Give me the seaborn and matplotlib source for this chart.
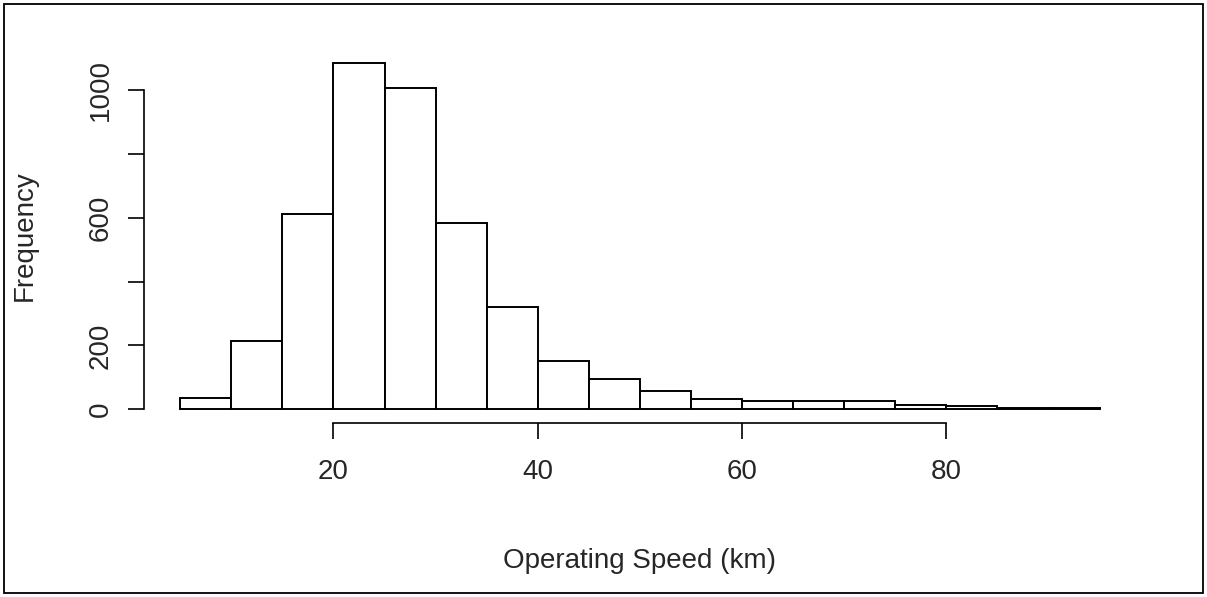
import matplotlib
matplotlib.use("Agg")
import matplotlib.pyplot as plt
import seaborn as sns
from matplotlib.patches import Rectangle

# Histogram bins (km) and counts
bin_edges = [5, 10, 15, 20, 25, 30, 35, 40, 45, 50, 55, 60, 65, 70, 75, 80, 85, 90, 95]
bin_lefts = bin_edges[:-1]
counts = [34, 214, 611, 1085, 1005, 583, 319, 151, 95, 56, 33, 27, 27, 27, 12, 11, 5, 4]

x_ticks = [20, 40, 60, 80]
y_ticks = [0, 200, 400, 600, 800, 1000]
y_tick_labels = ["0", "200", "", "600", "", "1000"]

sns.set_style("white")
plt.rcParams["font.family"] = ["Liberation Sans", "DejaVu Sans"]

fig = plt.figure(figsize=(12.07, 5.97), dpi=100)
W, H = 1207, 597
ax = fig.add_axes([143.5 / W, 1 - 423.2 / H, (1136.4 - 143.5) / W, (423.2 - 47.7) / H])

sns.histplot(x=bin_lefts, weights=counts, bins=bin_edges, ax=ax,
             color="white", edgecolor="black", linewidth=1.4, alpha=1)

ax.set_xlim(1.4, 98.6)
ax.set_ylim(-43.6, 1132.6)

for side in ["top", "right"]:
    ax.spines[side].set_visible(False)
for side in ["left", "bottom"]:
    ax.spines[side].set_linewidth(1.2)
    ax.spines[side].set_color("black")
ax.spines["left"].set_bounds(0, 1000)
ax.spines["bottom"].set_bounds(20, 80)

ax.set_xticks(x_ticks)
ax.set_xticklabels([str(t) for t in x_ticks])
ax.set_yticks(y_ticks)
ax.set_yticklabels(y_tick_labels, rotation=90, va="center")
ax.tick_params(axis="both", direction="out", length=11.5, width=1.2, color="black",
               bottom=True, left=True, labelsize=20, labelcolor="#262626")
ax.tick_params(axis="x", pad=14)
ax.tick_params(axis="y", pad=10)

ax.set_xlabel("Operating Speed (km)", fontsize=20, color="#262626")
ax.set_ylabel("Frequency", fontsize=20, color="#262626")
ax.xaxis.set_label_coords(0.5, (423.2 - 561) / (423.2 - 47.7))
ax.xaxis.label.set_va("center")
ax.yaxis.set_label_coords((25 - 143.5) / (1136.4 - 143.5), 0.5)
ax.yaxis.label.set_va("center")

ax.grid(False)

# outer frame of the picture
fig.patches.append(Rectangle((4 / W, 4 / H), 1 - 8 / W, 1 - 8 / H, transform=fig.transFigure,
                             fill=False, edgecolor="black", linewidth=1.3))

fig.savefig("out.png", dpi=100, facecolor="white")
